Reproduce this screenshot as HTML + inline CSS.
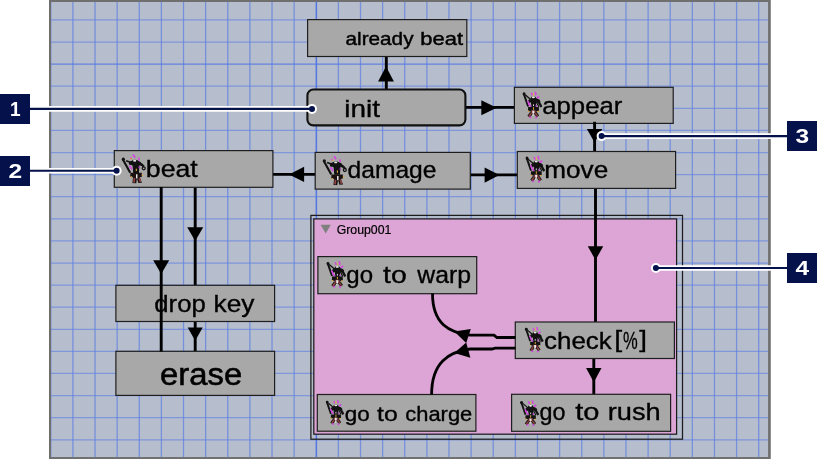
<!DOCTYPE html>
<html><head><meta charset="utf-8"><title>diagram</title>
<style>html,body{margin:0;padding:0;background:#fff;}body{width:817px;height:459px;overflow:hidden;}svg{display:block;will-change:transform;}text{font-family:"Liberation Sans",sans-serif;}</style>
</head><body>
<svg width="817" height="459" viewBox="0 0 817 459">
<defs>
<symbol id="ic" viewBox="0 0 20 28">
<line x1="0.9" y1="1.8" x2="5.6" y2="15.4" stroke="#121212" stroke-width="2"/>
<circle cx="1.4" cy="2.6" r="1.6" fill="#121212"/>
<line x1="2.6" y1="3.6" x2="8.4" y2="8.6" stroke="#121212" stroke-width="1.3"/>
<line x1="8.7" y1="1.5" x2="10" y2="4.1" stroke="#d548e2" stroke-width="1.6"/>
<line x1="12.8" y1="0.4" x2="13.6" y2="4" stroke="#d548e2" stroke-width="1.7"/>
<line x1="16.8" y1="5.1" x2="14.3" y2="7.3" stroke="#d548e2" stroke-width="1.8"/>
<line x1="11" y1="1.5" x2="11" y2="4.6" stroke="#e0b040" stroke-width="1"/>
<path d="M5.2 10.2 Q6 7 10.9 7.2 Q16.4 6.8 18 10 L17.2 12.2 L13.8 11.2 L13.4 16.4 L8.9 16.4 L8.4 11.2 L6 12.4 Z" fill="#121212"/>
<ellipse cx="11" cy="8.8" rx="3.1" ry="3.7" fill="#121212"/>
<ellipse cx="10.9" cy="6.1" rx="1.6" ry="1" fill="#ececec"/>
<line x1="5.1" y1="9.8" x2="7.3" y2="14.8" stroke="#d548e2" stroke-width="1.7"/>
<line x1="15.4" y1="9.2" x2="19.1" y2="15.9" stroke="#121212" stroke-width="2.5"/>
<line x1="14" y1="11" x2="16.6" y2="16" stroke="#121212" stroke-width="1.2"/>
<rect x="10.5" y="13.2" width="1" height="1.8" fill="#d8d8d8"/>
<circle cx="8.2" cy="15" r="0.9" fill="#b83cc8"/>
<circle cx="13.8" cy="14.7" r="0.9" fill="#b83cc8"/>
<path d="M5.6 16 L16.4 16 L16.6 19.8 L13.8 20.4 L13.9 23 L8 23 L8.2 20.4 L5.4 19.8 Z" fill="#121212"/>
<rect x="10.5" y="16.2" width="1" height="2.5" fill="#e0a838"/>
<rect x="5.2" y="19.5" width="1.5" height="1.2" fill="#e0a838"/>
<rect x="14.9" y="19.8" width="1.5" height="1.2" fill="#e0a838"/>
<path d="M8.7 19.3 L13.2 19.3 L13.4 22.6 L8.5 22.6 Z" fill="#7e3a3a"/>
<rect x="9.8" y="19.6" width="2.1" height="3.2" fill="#e8e8e8"/>
<line x1="8.9" y1="21.8" x2="6.2" y2="25.8" stroke="#1e1010" stroke-width="3.3"/>
<line x1="12.9" y1="21.8" x2="15.4" y2="25.4" stroke="#1e1010" stroke-width="3.3"/>
<line x1="8.9" y1="22" x2="6.4" y2="25.5" stroke="#8a4444" stroke-width="1.6"/>
<line x1="12.9" y1="22" x2="15.2" y2="25.2" stroke="#8a4444" stroke-width="1.6"/>
<rect x="9.9" y="23.3" width="1.2" height="1.5" fill="#e0e0e0"/>
<circle cx="7.8" cy="26.4" r="1.05" fill="#d548e2"/>
<circle cx="13.7" cy="26.7" r="1.05" fill="#d548e2"/>
</symbol>
<symbol id="ic2" viewBox="0 0 25 30">
<line x1="1" y1="5" x2="8.8" y2="19.2" stroke="#121212" stroke-width="2.1"/>
<circle cx="1.8" cy="5.4" r="1.6" fill="#121212"/>
<line x1="4.6" y1="7" x2="12" y2="9.6" stroke="#121212" stroke-width="1.6"/>
<line x1="11.6" y1="0.8" x2="13.7" y2="3.9" stroke="#d548e2" stroke-width="1.8"/>
<line x1="17.4" y1="3.9" x2="17.9" y2="6.8" stroke="#d548e2" stroke-width="1.7"/>
<line x1="9.3" y1="3.4" x2="10" y2="5.4" stroke="#d548e2" stroke-width="1.5"/>
<rect x="9.2" y="4.2" width="1.6" height="1.3" fill="#dca040"/>
<path d="M7.2 9 Q9 6.6 13.6 6.4 Q18.6 6.6 20.2 9.6 L22.9 12 L22.4 13.4 L18 11.4 L17.6 19.4 L11.8 19.4 L11.2 11.6 L7.8 11 Z" fill="#121212"/>
<ellipse cx="13.7" cy="9.3" rx="3.6" ry="3.3" fill="#121212"/>
<ellipse cx="13.3" cy="7" rx="1.6" ry="0.9" fill="#e4e4e4"/>
<line x1="7.8" y1="12" x2="10.8" y2="15.4" stroke="#d548e2" stroke-width="1.8"/>
<circle cx="22.4" cy="14.6" r="1.5" fill="none" stroke="#121212" stroke-width="1.3"/>
<line x1="19.6" y1="10" x2="22.6" y2="12.8" stroke="#121212" stroke-width="1.9"/>
<circle cx="17.9" cy="13.7" r="0.9" fill="#b83cc8"/>
<rect x="14.4" y="15" width="1.1" height="2.4" fill="#e0a838"/>
<path d="M9 19 L20.4 19 L20.6 23 L18.4 23.6 L20.6 29.2 L17 29.4 L15.6 24.6 L14.8 29.8 L11 29.6 L11.6 23.6 L8.8 23 Z" fill="#1a1010"/>
<rect x="9.2" y="22.6" width="1.5" height="1.2" fill="#e0a838"/>
<rect x="20.4" y="21" width="1.5" height="1.2" fill="#e0a838"/>
<rect x="14.6" y="20.6" width="1.5" height="4.2" fill="#e8e8e8"/>
<line x1="13" y1="24.2" x2="12.6" y2="29" stroke="#8a4444" stroke-width="1.8"/>
<line x1="18" y1="24.2" x2="19" y2="28.4" stroke="#8a4444" stroke-width="1.8"/>
</symbol>
</defs>
<rect x="49" y="0" width="721.5" height="459" fill="#6f6f6f"/>
<rect x="51" y="1.9" width="717.3" height="455.3" fill="#b6bdcc"/>
<g stroke="#5f80e3" stroke-width="1.3" opacity="0.73">
<line x1="50.78" y1="2" x2="50.78" y2="457.2"/>
<line x1="72.90" y1="2" x2="72.90" y2="457.2"/>
<line x1="95.02" y1="2" x2="95.02" y2="457.2"/>
<line x1="117.15" y1="2" x2="117.15" y2="457.2"/>
<line x1="139.27" y1="2" x2="139.27" y2="457.2"/>
<line x1="161.39" y1="2" x2="161.39" y2="457.2"/>
<line x1="183.52" y1="2" x2="183.52" y2="457.2"/>
<line x1="205.64" y1="2" x2="205.64" y2="457.2"/>
<line x1="227.76" y1="2" x2="227.76" y2="457.2"/>
<line x1="249.88" y1="2" x2="249.88" y2="457.2"/>
<line x1="272.01" y1="2" x2="272.01" y2="457.2"/>
<line x1="294.13" y1="2" x2="294.13" y2="457.2"/>
<line x1="316.25" y1="2" x2="316.25" y2="457.2"/>
<line x1="338.38" y1="2" x2="338.38" y2="457.2"/>
<line x1="360.50" y1="2" x2="360.50" y2="457.2"/>
<line x1="382.62" y1="2" x2="382.62" y2="457.2"/>
<line x1="404.75" y1="2" x2="404.75" y2="457.2"/>
<line x1="426.87" y1="2" x2="426.87" y2="457.2"/>
<line x1="448.99" y1="2" x2="448.99" y2="457.2"/>
<line x1="471.11" y1="2" x2="471.11" y2="457.2"/>
<line x1="493.24" y1="2" x2="493.24" y2="457.2"/>
<line x1="515.36" y1="2" x2="515.36" y2="457.2"/>
<line x1="537.48" y1="2" x2="537.48" y2="457.2"/>
<line x1="559.61" y1="2" x2="559.61" y2="457.2"/>
<line x1="581.73" y1="2" x2="581.73" y2="457.2"/>
<line x1="603.85" y1="2" x2="603.85" y2="457.2"/>
<line x1="625.98" y1="2" x2="625.98" y2="457.2"/>
<line x1="648.10" y1="2" x2="648.10" y2="457.2"/>
<line x1="670.22" y1="2" x2="670.22" y2="457.2"/>
<line x1="692.34" y1="2" x2="692.34" y2="457.2"/>
<line x1="714.47" y1="2" x2="714.47" y2="457.2"/>
<line x1="736.59" y1="2" x2="736.59" y2="457.2"/>
<line x1="758.71" y1="2" x2="758.71" y2="457.2"/>
</g>
<g stroke="#5f80e3" stroke-width="1.25" opacity="0.63">
<line x1="51" y1="19.95" x2="768.3" y2="19.95"/>
<line x1="51" y1="42.05" x2="768.3" y2="42.05"/>
<line x1="51" y1="86.23" x2="768.3" y2="86.23"/>
<line x1="51" y1="108.33" x2="768.3" y2="108.33"/>
<line x1="51" y1="130.42" x2="768.3" y2="130.42"/>
<line x1="51" y1="152.52" x2="768.3" y2="152.52"/>
<line x1="51" y1="174.61" x2="768.3" y2="174.61"/>
<line x1="51" y1="196.71" x2="768.3" y2="196.71"/>
<line x1="51" y1="218.80" x2="768.3" y2="218.80"/>
<line x1="51" y1="240.90" x2="768.3" y2="240.90"/>
<line x1="51" y1="263.00" x2="768.3" y2="263.00"/>
<line x1="51" y1="285.09" x2="768.3" y2="285.09"/>
<line x1="51" y1="307.19" x2="768.3" y2="307.19"/>
<line x1="51" y1="329.28" x2="768.3" y2="329.28"/>
<line x1="51" y1="351.37" x2="768.3" y2="351.37"/>
<line x1="51" y1="373.47" x2="768.3" y2="373.47"/>
<line x1="51" y1="395.56" x2="768.3" y2="395.56"/>
<line x1="51" y1="417.66" x2="768.3" y2="417.66"/>
<line x1="51" y1="439.75" x2="768.3" y2="439.75"/>
</g>
<g stroke="#4f74e4" stroke-width="1.35">
<line x1="51" y1="64.1" x2="768.3" y2="64.1" opacity="0.8"/>
<line x1="316.45" y1="2" x2="316.45" y2="457.2" opacity="0.9"/>
</g>
<path d="M49 0 H770.5 V459 H49 Z M51 1.9 V457.2 H768.3 V1.9 Z" fill="#6f6f6f" fill-rule="evenodd"/>
<rect x="310.9" y="215.4" width="371.6" height="223.8" fill="none" stroke="#1c1c1c" stroke-width="1.25"/>
<rect x="313.8" y="218.9" width="362.8" height="215.3" fill="#dca5d5" stroke="#1c1c1c" stroke-width="1.25"/>
<path d="M320.6 224.8 L330.8 224.8 L325.7 233.4 Z" fill="#808080"/>
<text x="336.7" y="233.9" font-size="12.3" textLength="54.7" lengthAdjust="spacingAndGlyphs" fill="#000" stroke="#000" stroke-width="0.2" font-weight="normal">Group001</text>
<line x1="386.3" y1="56" x2="386.3" y2="89" stroke="#000" stroke-width="2.9"/>
<path d="M378.1 81.6 L393.9 81.6 L386 66.60000000000001 Z" fill="#000"/>
<line x1="466" y1="107.4" x2="514.5" y2="107.4" stroke="#000" stroke-width="2.9"/>
<path d="M481.3 100.2 L481.3 115.2 L496.7 107.7 Z" fill="#000"/>
<line x1="594.6" y1="124" x2="594.6" y2="151.5" stroke="#000" stroke-width="2.9"/>
<path d="M586.9 128.9 L602.3000000000001 128.9 L594.6 142.4 Z" fill="#000"/>
<line x1="273" y1="174.4" x2="315.5" y2="174.4" stroke="#000" stroke-width="2.9"/>
<path d="M304.1 166.8 L304.1 182.0 L289.0 174.4 Z" fill="#000"/>
<line x1="470" y1="174.9" x2="517.5" y2="174.9" stroke="#000" stroke-width="2.9"/>
<path d="M484.6 167.5 L484.6 182.7 L499.40000000000003 175.1 Z" fill="#000"/>
<line x1="195.2" y1="187" x2="195.2" y2="285.5" stroke="#000" stroke-width="2.9"/>
<path d="M187.2 227.2 L203.2 227.2 L195.2 241.0 Z" fill="#000"/>
<line x1="195.2" y1="321.3" x2="195.2" y2="351.5" stroke="#000" stroke-width="2.9"/>
<path d="M187.7 327.4 L202.7 327.4 L195.2 340.8 Z" fill="#000"/>
<line x1="595.5" y1="188" x2="595.5" y2="322.3" stroke="#000" stroke-width="2.9"/>
<line x1="593.8" y1="358.3" x2="593.8" y2="394.6" stroke="#000" stroke-width="2.9"/>
<path d="M586.0999999999999 368.1 L601.5 368.1 L593.8 382.2 Z" fill="#000"/>
<rect x="307.6" y="19.6" width="159.20" height="36.90" rx="0" fill="#a8a8a8" stroke="#1e1e1e" stroke-width="1.2"/>
<rect x="307.4" y="89.5" width="158.00" height="35.90" rx="6" fill="#a8a8a8" stroke="#111" stroke-width="2.1"/>
<rect x="514.4" y="87.3" width="158.80" height="36.10" rx="0" fill="#a8a8a8" stroke="#1e1e1e" stroke-width="1.2"/>
<rect x="114.3" y="150.6" width="158.60" height="36.70" rx="0" fill="#a8a8a8" stroke="#1e1e1e" stroke-width="1.2"/>
<rect x="315.2" y="152.4" width="155.10" height="36.70" rx="0" fill="#a8a8a8" stroke="#1e1e1e" stroke-width="1.2"/>
<rect x="517.3" y="151.5" width="158.30" height="36.90" rx="0" fill="#a8a8a8" stroke="#1e1e1e" stroke-width="1.2"/>
<rect x="115.9" y="285.3" width="158.70" height="36.20" rx="0" fill="#a8a8a8" stroke="#1e1e1e" stroke-width="1.2"/>
<rect x="115.9" y="351.3" width="158.70" height="44.10" rx="0" fill="#a8a8a8" stroke="#1e1e1e" stroke-width="1.2"/>
<rect x="317.9" y="256.6" width="158.80" height="37.10" rx="0" fill="#a8a8a8" stroke="#1e1e1e" stroke-width="1.2"/>
<rect x="515.3" y="322" width="159.10" height="36.50" rx="0" fill="#a8a8a8" stroke="#1e1e1e" stroke-width="1.2"/>
<rect x="317.3" y="394.5" width="158.60" height="36.70" rx="0" fill="#a8a8a8" stroke="#1e1e1e" stroke-width="1.2"/>
<rect x="511.6" y="394.3" width="159.00" height="37.00" rx="0" fill="#a8a8a8" stroke="#1e1e1e" stroke-width="1.2"/>
<line x1="161.2" y1="187" x2="161.2" y2="351.5" stroke="#000" stroke-width="2.9"/>
<path d="M153.2 260.3 L169.2 260.3 L161.2 274.0 Z" fill="#000"/>
<line x1="594.6" y1="121.8" x2="594.6" y2="125" stroke="#000" stroke-width="2.9"/>
<path d="M587.8 246.3 L603.2 246.3 L595.5 260.1 Z" fill="#000"/>
<g fill="none" stroke="#000" stroke-width="2.8">
<path d="M515.5 337.5 L497 337.5 L494 335.2 L470 335.2 C 449 332.5, 432.5 324, 432.5 293.6"/>
<path d="M515.5 348.2 L495 348.2 L492 349 L470 349 C 449 352, 431.6 362, 431.6 394.6"/>
</g>
<path d="M454.3 331.5 L470.8 329 L466.2 343 Z" fill="#000"/>
<path d="M454.3 353 L466.2 342.4 L470.4 357.8 Z" fill="#000"/>
<text x="345.55" y="44.6" font-size="19" textLength="67.95" lengthAdjust="spacingAndGlyphs" fill="#000" stroke="#000" stroke-width="0.45" font-weight="normal">already</text>
<text x="420.3" y="44.6" font-size="19" textLength="42.7" lengthAdjust="spacingAndGlyphs" fill="#000" stroke="#000" stroke-width="0.45" font-weight="normal">beat</text>
<text x="344.3" y="116.8" font-size="24.5" textLength="35.7" lengthAdjust="spacingAndGlyphs" fill="#000" stroke="#000" stroke-width="0.35" font-weight="normal">init</text>
<text x="542.3" y="114.3" font-size="24.5" textLength="79.95" lengthAdjust="spacingAndGlyphs" fill="#000" stroke="#000" stroke-width="0.35" font-weight="normal">appear</text>
<text x="145.8" y="177.4" font-size="24.5" textLength="51.95" lengthAdjust="spacingAndGlyphs" fill="#000" stroke="#000" stroke-width="0.35" font-weight="normal">beat</text>
<text x="347.55" y="178.3" font-size="24.5" textLength="88.95" lengthAdjust="spacingAndGlyphs" fill="#000" stroke="#000" stroke-width="0.35" font-weight="normal">damage</text>
<text x="544.3" y="178.3" font-size="24.5" textLength="63.95" lengthAdjust="spacingAndGlyphs" fill="#000" stroke="#000" stroke-width="0.35" font-weight="normal">move</text>
<text x="154.3" y="312.2" font-size="24.5" textLength="51.45" lengthAdjust="spacingAndGlyphs" fill="#000" stroke="#000" stroke-width="0.35" font-weight="normal">drop</text>
<text x="213.55" y="312.2" font-size="24.5" textLength="40.95" lengthAdjust="spacingAndGlyphs" fill="#000" stroke="#000" stroke-width="0.35" font-weight="normal">key</text>
<text x="160.05" y="384.6" font-size="31" textLength="82.2" lengthAdjust="spacingAndGlyphs" fill="#000" stroke="#000" stroke-width="0.55" font-weight="normal">erase</text>
<text x="346.3" y="283.4" font-size="24.5" textLength="26.7" lengthAdjust="spacingAndGlyphs" fill="#000" stroke="#000" stroke-width="0.35" font-weight="normal">go</text>
<text x="383.05" y="283.4" font-size="24.5" textLength="23.7" lengthAdjust="spacingAndGlyphs" fill="#000" stroke="#000" stroke-width="0.35" font-weight="normal">to</text>
<text x="417.3" y="283.4" font-size="24.5" textLength="53.7" lengthAdjust="spacingAndGlyphs" fill="#000" stroke="#000" stroke-width="0.35" font-weight="normal">warp</text>
<text x="544.05" y="348.8" font-size="24.5" textLength="67.7" lengthAdjust="spacingAndGlyphs" fill="#000" stroke="#000" stroke-width="0.35" font-weight="normal">check</text>
<text x="614.3" y="346.7" font-size="24.5" textLength="7.95" lengthAdjust="spacingAndGlyphs" fill="#000" stroke="#000" stroke-width="0.3" font-weight="normal">[</text>
<text x="623.05" y="348.8" font-size="24.5" textLength="14.7" lengthAdjust="spacingAndGlyphs" fill="#000" stroke="#000" stroke-width="0.3" font-weight="normal">%</text>
<text x="639.3" y="346.7" font-size="24.5" textLength="7.7" lengthAdjust="spacingAndGlyphs" fill="#000" stroke="#000" stroke-width="0.3" font-weight="normal">]</text>
<text x="344.8" y="420.9" font-size="20.8" textLength="24.95" lengthAdjust="spacingAndGlyphs" fill="#000" stroke="#000" stroke-width="0.35" font-weight="normal">go</text>
<text x="377.05" y="420.9" font-size="20.8" textLength="20.7" lengthAdjust="spacingAndGlyphs" fill="#000" stroke="#000" stroke-width="0.35" font-weight="normal">to</text>
<text x="405.3" y="420.9" font-size="20.8" textLength="66.95" lengthAdjust="spacingAndGlyphs" fill="#000" stroke="#000" stroke-width="0.35" font-weight="normal">charge</text>
<text x="539.55" y="420.2" font-size="24.5" textLength="25.95" lengthAdjust="spacingAndGlyphs" fill="#000" stroke="#000" stroke-width="0.35" font-weight="normal">go</text>
<text x="575.3" y="420.2" font-size="24.5" textLength="24.2" lengthAdjust="spacingAndGlyphs" fill="#000" stroke="#000" stroke-width="0.35" font-weight="normal">to</text>
<text x="607.8" y="420.2" font-size="24.5" textLength="52.95" lengthAdjust="spacingAndGlyphs" fill="#000" stroke="#000" stroke-width="0.35" font-weight="normal">rush</text>
<use href="#ic2" x="121.5" y="153.8" width="24.8" height="29.8"/>
<use href="#ic2" x="322.5" y="155.4" width="24.9" height="30"/>
<use href="#ic" x="522.5" y="91.3" width="20" height="27.6"/>
<use href="#ic" x="525.6" y="155.5" width="19.5" height="27.5"/>
<use href="#ic" x="326.4" y="260.9" width="20" height="27.5"/>
<use href="#ic" x="524.4" y="326.8" width="19.8" height="26"/>
<use href="#ic" x="325.8" y="399.4" width="18.4" height="26.4"/>
<use href="#ic" x="519.8" y="400" width="19.8" height="26.5"/>
<line x1="30" y1="108.9" x2="312" y2="108.9" stroke="#fff" stroke-width="5.6"/>
<circle cx="312" cy="108.9" r="5" fill="#fff"/>
<line x1="30" y1="108.9" x2="312" y2="108.9" stroke="#04114b" stroke-width="2.1"/>
<circle cx="312" cy="108.9" r="3" fill="#04114b"/>
<rect x="0" y="94" width="30" height="30" fill="#04114b"/>
<text x="9.899999999999999" y="116.3" font-size="20.4" font-weight="bold" fill="#fff" textLength="10.6" lengthAdjust="spacingAndGlyphs">1</text>
<line x1="30" y1="170.8" x2="116.6" y2="170.8" stroke="#fff" stroke-width="5.6"/>
<circle cx="116.6" cy="170.8" r="5" fill="#fff"/>
<line x1="30" y1="170.8" x2="116.6" y2="170.8" stroke="#04114b" stroke-width="2.1"/>
<circle cx="116.6" cy="170.8" r="3" fill="#04114b"/>
<rect x="0" y="156" width="30" height="30" fill="#04114b"/>
<text x="8.399999999999999" y="178.3" font-size="20.4" font-weight="bold" fill="#fff" textLength="13.6" lengthAdjust="spacingAndGlyphs">2</text>
<line x1="601.6" y1="136.1" x2="787" y2="136.1" stroke="#fff" stroke-width="5.6"/>
<circle cx="601.6" cy="136.1" r="5" fill="#fff"/>
<line x1="601.6" y1="136.1" x2="787" y2="136.1" stroke="#04114b" stroke-width="2.1"/>
<circle cx="601.6" cy="136.1" r="3" fill="#04114b"/>
<rect x="787" y="121" width="30" height="30" fill="#04114b"/>
<text x="795.4000000000001" y="143.3" font-size="20.4" font-weight="bold" fill="#fff" textLength="13.6" lengthAdjust="spacingAndGlyphs">3</text>
<line x1="655.9" y1="268" x2="787" y2="268" stroke="#fff" stroke-width="5.6"/>
<circle cx="655.9" cy="268" r="5" fill="#fff"/>
<line x1="655.9" y1="268" x2="787" y2="268" stroke="#04114b" stroke-width="2.1"/>
<circle cx="655.9" cy="268" r="3" fill="#04114b"/>
<rect x="787" y="253" width="30" height="30" fill="#04114b"/>
<text x="795.4000000000001" y="275.3" font-size="20.4" font-weight="bold" fill="#fff" textLength="13.6" lengthAdjust="spacingAndGlyphs">4</text>
</svg>
</body></html>
